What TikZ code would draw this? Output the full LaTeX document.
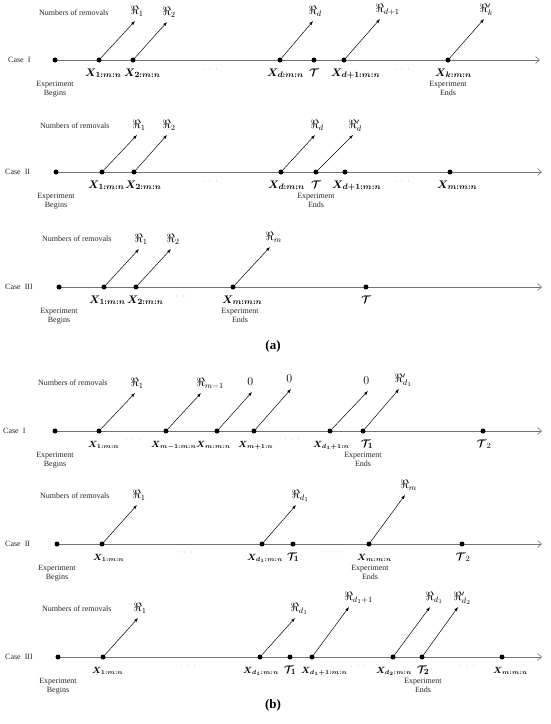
\documentclass[tikz,border=0pt]{standalone}
\usepackage{amsmath}
\usepackage{amssymb}
\usepackage[no-math]{fontspec}
\setmainfont{Liberation Serif}
\usetikzlibrary{arrows.meta,backgrounds}

\begin{document}
\begin{tikzpicture}
  [x=1pt,y=-1pt,
   dot/.style={circle, fill, inner sep=0pt, minimum size=5pt},
   axis/.style={draw=black!55, line width=0.9pt, -{Straight Barb[length=4pt,width=7pt,line width=0.6pt]}},
   rem/.style={draw, line width=0.5pt, -{Latex[length=4pt,width=3pt]}},
   rlab/.style={anchor=base west, xshift=-5pt, yshift=6.5pt, inner sep=0pt, font=\fontsize{12}{12}\selectfont},
   xlab/.style={anchor=base west, inner sep=0pt, font=\fontsize{11}{11}\selectfont},
   sxlab/.style={xlab, font=\fontsize{9}{10}\selectfont},
   tlab/.style={anchor=base, inner sep=0pt, font=\fontsize{11}{11}\selectfont},
   txt/.style={anchor=west, inner sep=0pt, font=\fontsize{8}{9}\selectfont, text=black!85},
   note/.style={anchor=north, align=center, inner sep=0pt, font=\fontsize{8}{9}\selectfont, text=black!85},
   ell/.style={inner sep=0pt, text=black!50, font=\fontsize{8}{8}\selectfont},
   panel/.style={inner sep=0pt, font=\fontsize{13}{14}\selectfont\bfseries}]
  \useasboundingbox (0,0) rectangle (550,724);

  % (a) case I
  \node[txt] (a1n) at (39,13) {Numbers of removals};
  \node[txt] (a1c) at (8,60) {Case\ \ I};
  \node[dot] (a1s) at (55,60) {};
   \node[dot] (a1x1) at (99,60) {};
   \node[dot] (a1x2) at (133,60) {};
   \node[dot] (a1xd) at (280,60) {};
   \node[dot] (a1t) at (314,60) {};
   \node[dot] (a1xe) at (344,60) {};
   \node[dot] (a1xk) at (448,60) {};
  \coordinate (a1e) at (540,60);
  \coordinate (a1r1) at (135,21);
  \coordinate (a1r2) at (167,22);
  \coordinate (a1rd) at (313,21);
  \coordinate (a1re) at (380,19);
  \coordinate (a1rk) at (484,19);
  \node[xlab] (a1l1) at (85,76) {$\boldsymbol{X_{1:m:n}}$};
  \node[xlab] (a1l2) at (124,76) {$\boldsymbol{X_{2:m:n}}$};
  \node[xlab] (a1ld) at (267,76) {$\boldsymbol{X_{d:m:n}}$};
  \node[tlab] (a1lt) at (314,76) {$\boldsymbol{\mathcal{T}}$};
  \node[xlab] (a1le) at (331,76) {$\boldsymbol{X_{d+1:m:n}}$};
  \node[xlab] (a1lk) at (435,76) {$\boldsymbol{X_{k:m:n}}$};
  \node[ell] (a1d1) at (210,70) {$\cdot\;\cdot\;\cdot$};
  \node[ell] (a1d2) at (402,70) {$\cdot\;\cdot\;\cdot$};
  \node[note] (a1b) at (55,81) {Experiment\\Begins};
  \node[note] (a1f) at (448,81) {Experiment\\Ends};

  % (a) case II
  \node[txt] (a2n) at (40,126) {Numbers of removals};
  \node[txt] (a2c) at (5,172) {Case\ \ II};
  \node[dot] (a2s) at (56,172) {};
   \node[dot] (a2x1) at (102,172) {};
   \node[dot] (a2x2) at (134,172) {};
   \node[dot] (a2xd) at (281,172) {};
   \node[dot] (a2t) at (316,172) {};
   \node[dot] (a2xe) at (345,172) {};
   \node[dot] (a2xm) at (450,172) {};
  \coordinate (a2e) at (542,172);
  \coordinate (a2r1) at (137,135);
  \coordinate (a2r2) at (167,135);
  \coordinate (a2rd) at (315,135);
  \coordinate (a2rt) at (353,135);
  \node[xlab] (a2l1) at (88,188) {$\boldsymbol{X_{1:m:n}}$};
  \node[xlab] (a2l2) at (125,188) {$\boldsymbol{X_{2:m:n}}$};
  \node[xlab] (a2ld) at (268,188) {$\boldsymbol{X_{d:m:n}}$};
  \node[tlab] (a2lt) at (316,188) {$\boldsymbol{\mathcal{T}}$};
  \node[xlab] (a2le) at (332,188) {$\boldsymbol{X_{d+1:m:n}}$};
  \node[xlab] (a2lm) at (437,188) {$\boldsymbol{X_{m:m:n}}$};
  \node[ell] (a2d1) at (210,182) {$\cdot\;\cdot\;\cdot$};
  \node[ell] (a2d2) at (402,182) {$\cdot\;\cdot\;\cdot$};
  \node[note] (a2b) at (56,193) {Experiment\\Begins};
  \node[note] (a2f) at (316,193) {Experiment\\Ends};

  % (a) case III
  \node[txt] (a3n) at (42,239) {Numbers of removals};
  \node[txt] (a3c) at (5,287) {Case\ \ III};
  \node[dot] (a3s) at (59,287) {};
   \node[dot] (a3x1) at (104,287) {};
   \node[dot] (a3x2) at (136,287) {};
   \node[dot] (a3xm) at (233,287) {};
   \node[dot] (a3t) at (366,287) {};
  \coordinate (a3e) at (542,287);
  \coordinate (a3r1) at (139,249);
  \coordinate (a3r2) at (171,249);
  \coordinate (a3rm) at (270,247);
  \node[xlab] (a3l1) at (89,303) {$\boldsymbol{X_{1:m:n}}$};
  \node[xlab] (a3l2) at (127,303) {$\boldsymbol{X_{2:m:n}}$};
  \node[xlab] (a3lm) at (222,303) {$\boldsymbol{X_{m:m:n}}$};
  \node[tlab] (a3lt) at (366,303) {$\boldsymbol{\mathcal{T}}$};
  \node[ell] (a3d1) at (183,297) {$\cdot\;\cdot\;\cdot$};
  \node[note] (a3b) at (59,308) {Experiment\\Begins};
  \node[note] (a3f) at (240,308) {Experiment\\Ends};
  \node[panel] (pa) at (273,346) {(a)};

  % (b) case I
  \node[txt] (b1n) at (38,383) {Numbers of removals};
  \node[txt] (b1c) at (3,431) {Case\ \ I};
  \node[dot] (b1s) at (55,431) {};
   \node[dot] (b1x1) at (99,431) {};
   \node[dot] (b1xp) at (166,431) {};
   \node[dot] (b1xm) at (217,431) {};
   \node[dot] (b1xq) at (254,431) {};
   \node[dot] (b1xe) at (330,431) {};
   \node[dot] (b1t1) at (363,431) {};
   \node[dot] (b1t2) at (483,431) {};
  \coordinate (b1e) at (542,431);
  \coordinate (b1r1) at (135,393);
  \coordinate (b1rp) at (201,393);
  \coordinate (b1rm) at (252,392);
  \coordinate (b1rq) at (291,389);
  \coordinate (b1re) at (368,391);
  \coordinate (b1rt) at (399,389);
  \node[sxlab] (b1l1) at (88,447) {$\boldsymbol{X_{1:m:n}}$};
  \node[sxlab] (b1lp) at (151,447) {$\boldsymbol{X_{m-1:m:n}}$};
  \node[sxlab] (b1lm) at (196,447) {$\boldsymbol{X_{m:m:n}}$};
  \node[sxlab] (b1lq) at (238,447) {$\boldsymbol{X_{m+1:n}}$};
  \node[sxlab] (b1le) at (313,447) {$\boldsymbol{X_{d_1+1:n}}$};
  \node[tlab] (b1lt1) at (367,447) {$\boldsymbol{\mathcal{T}_1}$};
  \node[tlab] (b1lt2) at (484,447) {$\boldsymbol{\mathcal{T}}_2$};
  \node[ell] (b1d1) at (133,440) {$\cdot\;\cdot\;\cdot$};
  \node[ell] (b1d2) at (292,440) {$\cdot\;\cdot\;\cdot$};
  \node[note] (b1b) at (55,452) {Experiment\\Begins};
  \node[note] (b1f) at (363,452) {Experiment\\Ends};

  % (b) case II
  \node[txt] (b2n) at (40,496) {Numbers of removals};
  \node[txt] (b2c) at (5,544) {Case\ \ II};
  \node[dot] (b2s) at (57,544) {};
   \node[dot] (b2x1) at (102,544) {};
   \node[dot] (b2xd) at (262,544) {};
   \node[dot] (b2t1) at (293,544) {};
   \node[dot] (b2xm) at (369,544) {};
   \node[dot] (b2t2) at (462,544) {};
  \coordinate (b2e) at (542,544);
  \coordinate (b2r1) at (137,505);
  \coordinate (b2rd) at (296,505);
  \coordinate (b2rm) at (405,495);
  \node[sxlab] (b2l1) at (93,560) {$\boldsymbol{X_{1:m:n}}$};
  \node[sxlab] (b2ld) at (247,560) {$\boldsymbol{X_{d_1:m:n}}$};
  \node[tlab] (b2lt1) at (293,560) {$\boldsymbol{\mathcal{T}_1}$};
  \node[sxlab] (b2lm) at (357,560) {$\boldsymbol{X_{m:m:n}}$};
  \node[tlab] (b2lt2) at (463,560) {$\boldsymbol{\mathcal{T}}_2$};
  \node[ell] (b2d1) at (185,553) {$\cdot\;\cdot\;\cdot$};
  \node[ell] (b2d2) at (332,553) {$\cdot\;\cdot\;\cdot$};
  \node[note] (b2b) at (57,565) {Experiment\\Begins};
  \node[note] (b2f) at (370,565) {Experiment\\Ends};

  % (b) case III
  \node[txt] (b3n) at (42,609) {Numbers of removals};
  \node[txt] (b3c) at (5,657) {Case\ \ III};
  \node[dot] (b3s) at (58,657) {};
   \node[dot] (b3x1) at (103,657) {};
   \node[dot] (b3xd) at (260,657) {};
   \node[dot] (b3t1) at (290,657) {};
   \node[dot] (b3xe) at (312,657) {};
   \node[dot] (b3xf) at (393,657) {};
   \node[dot] (b3t2) at (422,657) {};
   \node[dot] (b3xm) at (502,657) {};
  \coordinate (b3e) at (542,657);
  \coordinate (b3r1) at (138,618);
  \coordinate (b3rd) at (295,618);
  \coordinate (b3re) at (349,607);
  \coordinate (b3rf) at (430,607);
  \coordinate (b3rt) at (458,607);
  \node[sxlab] (b3l1) at (92,673) {$\boldsymbol{X_{1:m:n}}$};
  \node[sxlab] (b3ld) at (243,673) {$\boldsymbol{X_{d_1:m:n}}$};
  \node[tlab] (b3lt1) at (290,673) {$\boldsymbol{\mathcal{T}_1}$};
  \node[sxlab] (b3le) at (301,673) {$\boldsymbol{X_{d_1+1:m:n}}$};
  \node[sxlab] (b3lf) at (376,673) {$\boldsymbol{X_{d_2:m:n}}$};
  \node[tlab] (b3lt2) at (423,673) {$\boldsymbol{\mathcal{T}_2}$};
  \node[sxlab] (b3lm) at (493,673) {$\boldsymbol{X_{m:m:n}}$};
  \node[ell] (b3d1) at (188,667) {$\cdot\;\cdot\;\cdot$};
  \node[ell] (b3d2) at (358,667) {$\cdot\;\cdot\;\cdot$};
  \node[ell] (b3d3) at (467,667) {$\cdot\;\cdot\;\cdot$};
  \node[note] (b3b) at (58,678) {Experiment\\Begins};
  \node[note] (b3f) at (423,678) {Experiment\\Ends};
  \node[panel] (pb) at (273,705) {(b)};

  \begin{scope}[on background layer]
    \foreach \from/\to in {a1s/a1e, a2s/a2e, a3s/a3e, b1s/b1e, b2s/b2e, b3s/b3e}
      \draw[axis] (\from.center) -- (\to);
  \end{scope}

  \foreach \from/\to/\lab in {a1x1/a1r1/\Re_1, a1x2/a1r2/\Re_2, a1xd/a1rd/\Re_d,
  a1xe/a1re/\Re_{d+1}, a1xk/a1rk/\Re'_k,
  a2x1/a2r1/\Re_1, a2x2/a2r2/\Re_2, a2xd/a2rd/\Re_d, a2t/a2rt/\Re'_d,
  a3x1/a3r1/\Re_1, a3x2/a3r2/\Re_2, a3xm/a3rm/\Re_m,
  b1x1/b1r1/\Re_1, b1xp/b1rp/\Re_{m-1}, b1xm/b1rm/0, b1xq/b1rq/0, b1xe/b1re/0, b1t1/b1rt/\Re'_{d_1},
  b2x1/b2r1/\Re_1, b2xd/b2rd/\Re_{d_1}, b2xm/b2rm/\Re_m,
  b3x1/b3r1/\Re_1, b3xd/b3rd/\Re_{d_1}, b3xe/b3re/\Re_{d_1+1}, b3xf/b3rf/\Re_{d_1}, b3t2/b3rt/\Re'_{d_2}}
      \draw[rem] (\from) -- (\to) node[rlab] {$\lab$};
\end{tikzpicture}
\end{document}
